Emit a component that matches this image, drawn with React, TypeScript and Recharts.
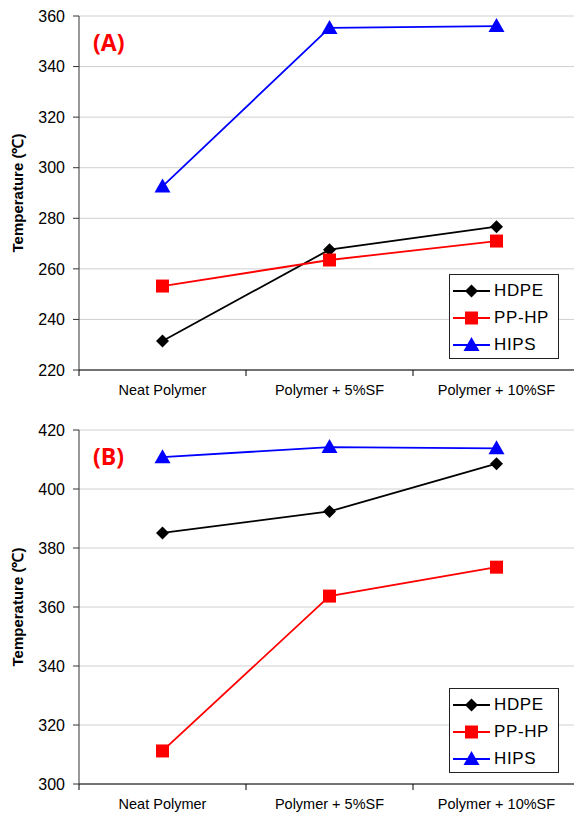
import React from "react";
import {
  LineChart,
  Line,
  XAxis,
  YAxis,
  CartesianGrid,
  Legend,
  Label,
} from "recharts";

const categories = ["Neat Polymer", "Polymer + 5%SF", "Polymer + 10%SF"];
const seriesNames = ["HDPE", "PP-HP", "HIPS"];

// (A)
const hdpeA = [231.5, 267.6, 276.7];
const pphpA = [253.2, 263.5, 271.0];
const hipsA = [292.6, 355.3, 356.0];
const ticksA = [220, 240, 260, 280, 300, 320, 340, 360];

// (B)
const hdpeB = [385.1, 392.4, 408.6];
const pphpB = [311.2, 363.7, 373.5];
const hipsB = [410.8, 414.2, 413.8];
const ticksB = [300, 320, 340, 360, 380, 400, 420];

const seriesStyle: Record<string, { color: string; shape: string }> = {
  HDPE: { color: "#000000", shape: "diamond" },
  "PP-HP": { color: "#ff0000", shape: "square" },
  HIPS: { color: "#0000ff", shape: "triangle" },
};

const CHART_W = 580;
const CHART_H = 410;
const AXIS_W = 79;
const HALF_CAT = (CHART_W - AXIS_W) / categories.length / 2;
const FONT = "'Liberation Sans', Arial, sans-serif";

function buildRows(hdpe: number[], pphp: number[], hips: number[]) {
  return categories.map((c, i) => ({
    x: i + 0.5,
    cat: c,
    HDPE: hdpe[i],
    "PP-HP": pphp[i],
    HIPS: hips[i],
  }));
}

function markerPath(shape: string, cx: number, cy: number) {
  if (shape === "diamond") {
    const r = 6.5;
    return `M${cx},${cy - r}L${cx + r},${cy}L${cx},${cy + r}L${cx - r},${cy}Z`;
  }
  if (shape === "square") {
    const r = 6.5;
    return `M${cx - r},${cy - r}H${cx + r}V${cy + r}H${cx - r}Z`;
  }
  return `M${cx},${cy - 8}L${cx + 8},${cy + 6}L${cx - 8},${cy + 6}Z`;
}

const makeDot = (name: string) => (props: any) => {
  const { cx, cy, index } = props;
  const s = seriesStyle[name];
  if (cx == null || cy == null) return <g key={`${name}-${index}`} />;
  return <path key={`${name}-${index}`} d={markerPath(s.shape, cx, cy)} fill={s.color} stroke="none" />;
};

const CatTick = (props: any) => {
  const { x, y, payload } = props;
  const idx = payload.value;
  if (idx >= categories.length) return null;
  return (
    <text x={x + HALF_CAT} y={y} dy="0.71em" textAnchor="middle" fontFamily={FONT} fontSize={14.5} fill="#000">
      {categories[idx]}
    </text>
  );
};

const YLabel = (props: any) => {
  const { viewBox } = props;
  const cx = 17;
  const cy = viewBox ? viewBox.y + viewBox.height / 2 : 193;
  return (
    <text
      x={cx}
      y={cy}
      transform={`rotate(-90 ${cx} ${cy})`}
      textAnchor="middle"
      dominantBaseline="central"
      fontFamily={FONT}
      fontWeight="bold"
      fontSize={15}
      fill="#000"
    >
      Temperature (℃)
    </text>
  );
};

// legend keeps the series order of the original, not the sorted payload
const LegendBox = () => (
  <div
    style={{
      width: 108,
      height: 81,
      border: "1px solid #222",
      background: "#fff",
      paddingTop: 2,
      boxSizing: "content-box",
    }}
  >
    {seriesNames.map((name) => {
      const s = seriesStyle[name];
      return (
        <div key={name} style={{ height: 27, display: "flex", alignItems: "center" }}>
          <svg width={44} height={20} style={{ display: "block" }}>
            <line x1={3} y1={10} x2={40} y2={10} stroke={s.color} strokeWidth={2} />
            <path d={markerPath(s.shape, 21.5, 10)} fill={s.color} />
          </svg>
          <span style={{ fontFamily: FONT, fontSize: 17, letterSpacing: 0.6, color: "#000", lineHeight: "20px" }}>
            {name}
          </span>
        </div>
      );
    })}
  </div>
);

function Panel({ rows, ticks, tag }: { rows: any[]; ticks: number[]; tag: string }) {
  const domain: [number, number] = [ticks[0], ticks[ticks.length - 1]];
  return (
    <div style={{ position: "relative", width: CHART_W, height: CHART_H }}>
      <LineChart width={CHART_W} height={CHART_H} data={rows} margin={{ top: 16, right: 0, bottom: 0, left: 0 }}>
        <CartesianGrid vertical={false} stroke="#d0d0d0" strokeWidth={1} />
        <XAxis
          type="number"
          dataKey="x"
          domain={[0, categories.length]}
          ticks={[0, 1, 2, 3]}
          tick={<CatTick />}
          tickSize={6}
          tickMargin={9}
          height={40}
          stroke="#000"
          tickLine={{ stroke: "#000" }}
          interval={0}
        />
        <YAxis
          type="number"
          domain={domain}
          ticks={ticks}
          width={AXIS_W}
          tickSize={6}
          tickMargin={8}
          stroke="#333"
          tick={{ fill: "#000", fontSize: 16, fontFamily: FONT }}
          interval={0}
        >
          <Label content={<YLabel />} />
        </YAxis>
        <Legend
          layout="vertical"
          align="center"
          verticalAlign="middle"
          content={<LegendBox />}
          wrapperStyle={{ left: 449, top: 274, width: 110, height: 85 }}
        />
        {seriesNames.map((k) => (
          <Line
            key={k}
            type="linear"
            dataKey={k}
            stroke={seriesStyle[k].color}
            strokeWidth={1.8}
            dot={makeDot(k)}
            activeDot={false}
            isAnimationActive={false}
          />
        ))}
      </LineChart>
      <div
        style={{
          position: "absolute",
          left: 93,
          top: 27,
          fontFamily: "'Open Sans', 'Liberation Sans', sans-serif",
          fontWeight: 700,
          fontSize: 23,
          lineHeight: "30px",
          color: "#ff0000",
        }}
      >
        {tag}
      </div>
    </div>
  );
}

export default function App() {
  return (
    <div style={{ position: "absolute", left: 0, top: 0, width: 574, height: 815, overflow: "hidden", background: "#fff" }}>
      <div style={{ position: "absolute", left: 0, top: 0 }}>
        <Panel rows={buildRows(hdpeA, pphpA, hipsA)} ticks={ticksA} tag="(A)" />
      </div>
      <div style={{ position: "absolute", left: 0, top: 414 }}>
        <Panel rows={buildRows(hdpeB, pphpB, hipsB)} ticks={ticksB} tag="(B)" />
      </div>
    </div>
  );
}
